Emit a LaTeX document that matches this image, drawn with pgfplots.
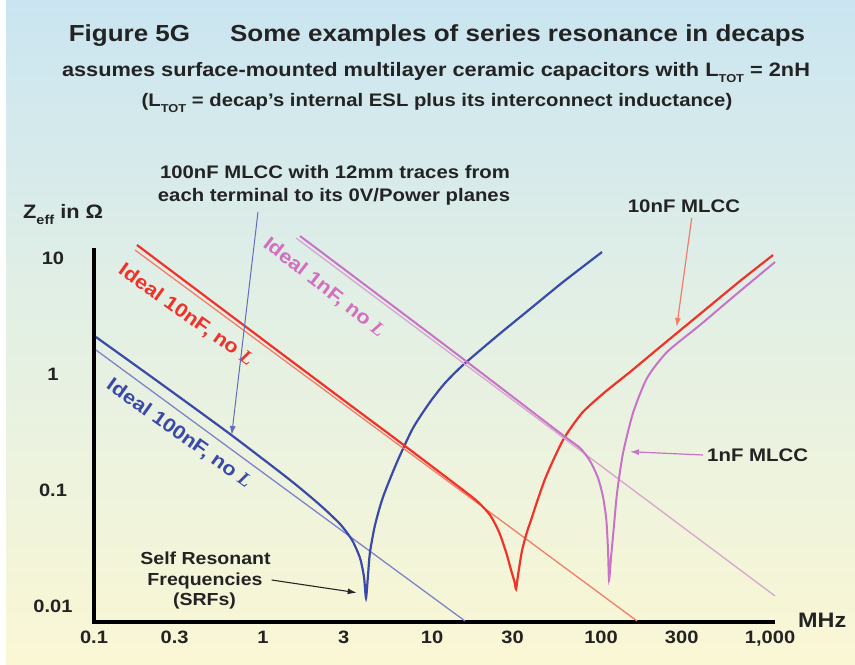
\documentclass[border=0pt]{standalone}
\usepackage{fontspec}
\setmainfont{Liberation Sans}[FakeStretch=1.12]
\newfontfamily\serifL{Liberation Serif}
\usepackage{pgfplots}
\pgfplotsset{compat=1.18}
\usetikzlibrary{arrows.meta}
\definecolor{bgtop}{RGB}{202,229,241}
\definecolor{bgmid}{RGB}{228,240,228}
\definecolor{bgbot}{RGB}{250,247,212}
\definecolor{blueDark}{RGB}{58,74,168}
\definecolor{blueThin}{RGB}{125,132,200}
\definecolor{redDark}{RGB}{240,50,40}
\definecolor{redThin}{RGB}{242,125,105}
\definecolor{magDark}{RGB}{200,115,200}
\definecolor{magThin}{RGB}{215,165,205}
\definecolor{magText}{RGB}{212,110,190}
\definecolor{txt}{RGB}{35,35,35}
\newcommand\fs[1]{\fontsize{#1}{#1}\selectfont}
\newcommand\sub[1]{\raisebox{-0.3em}{\fs{11.5}#1}}
\newcommand\Lit{{\serifL\bfseries\itshape L}}
\begin{document}
\begin{tikzpicture}[x=1bp,y=1bp]
\useasboundingbox (0,0) rectangle (855,665);
\shade[top color=bgtop, bottom color=bgbot, middle color=bgmid] (0,0) rectangle (855,665);
\fill[white] (0,0) rectangle (6,665);
% titles
\node[anchor=base, inner sep=0, text=txt] at (437,623.3) {\fs{23.3}\bfseries Figure 5G\hspace{40bp}Some examples of series resonance in decaps};
\node[anchor=base, inner sep=0, text=txt] at (436,588) {\fs{19.5}\bfseries assumes surface-mounted multilayer ceramic capacitors with L\sub{TOT} = 2nH};
\node[anchor=base, inner sep=0, text=txt] at (437,558) {\fs{18.2}\bfseries (L\sub{TOT} = decap's internal ESL plus its interconnect inductance)};
\node[anchor=base west, inner sep=0, text=txt] at (23,446) {\fs{19.5}\bfseries Z\raisebox{-0.3em}{\fs{13}eff} in Ω};
\begin{axis}[
  at={(94bp,43bp)}, anchor=south west,
  scale only axis, width=681bp, height=374bp,
  xmode=log, ymode=log,
  xmin=0.1, xmax=1070, ymin=0.00728, ymax=12.2,
  axis line style={draw=none},
  clip=false,
  xtick={0.1,0.3,1,3,10,30,100,300,1000},
  xticklabels={0.1,0.3,1,3,10,30,100,300,{1,000}},
  ytick={0.01,0.1,1,10},
  yticklabels={0.01,0.1,1,10},
  minor xtick={}, minor ytick={},
  major tick length=0, tick style={draw=none},
  xticklabel style={anchor=base, yshift=-21bp, inner sep=0, font=\fs{18}\bfseries, text=txt},
  yticklabel style={anchor=base, xshift=-41bp, yshift=-6.3bp, inner sep=0, font=\fs{18}\bfseries, text=txt},
]
\draw[line width=3.5bp, black] (rel axis cs:0,1) -- (rel axis cs:0,0) -- (rel axis cs:1,0);
% 100nF
\addplot[blueThin, line width=1.3bp, mark=none] coordinates {(0.1027,1.610) (15.67,0.007428)};
\addplot[blueDark, line width=2.2bp, mark=none, smooth, tension=0.4] coordinates {
(0.1027,2.084) (0.2457,0.8364) (0.6377,0.3039) (1.4451,0.12198) (2.1740,0.07425) (2.8553,0.05092) (3.3627,0.03706) (3.7497,0.02593) (3.9594,0.01778) (4.0687,0.01172) (4.1811,0.01850) (4.2968,0.02921) (4.5994,0.04992) (5.1295,0.08704) (6.2086,0.17434) (7.7199,0.3424) (9.7313,0.5736) (11.94,0.8364) (15.256,1.1955) (24.245,2.1267) (38.003,3.6337) (59.594,6.2108) (101.37,11.264)};
% 10nF
\addplot[redThin, line width=1.3bp, mark=none] coordinates {(0.1748,11.72) (163.3,0.007428)};
\addplot[redDark, line width=2.2bp, mark=none, smooth, tension=0.4] coordinates {
(0.1796,12.94) (2.4918,0.7278) (6.2086,0.2698) (15.256,0.1) (18.72,0.07880) (22.04,0.06086) (24.91,0.04344) (27.41,0.02921) (29.35,0.02043) (30.78,0.01610) (31.41,0.01401) (32.28,0.01850) (33.95,0.02921) (36.00,0.04093) (38.003,0.05194) (46.63,0.12442) (59.594,0.2698) (77.18,0.4611) (105.6,0.6994) (148.4,1.0405) (223.4,1.7095) (385.3,3.2906) (664.6,6.3356) (1041.7,10.613)};
% 1nF
\addplot[magThin, line width=1.3bp, mark=none] coordinates {(1.568,14.87) (1070,0.0122)};
\addplot[magDark, line width=2bp, mark=none, smooth, tension=0.4] coordinates {
(1.6558,15.47) (12.78,1.643) (57.20,0.3100) (75.11,0.2302) (86.07,0.1778) (96.0,0.1269) (102.8,0.08704) (107.5,0.05512) (110.0,0.0304) (111.5,0.01675) (114.6,0.02645) (118.2,0.04259) (124.35,0.09422) (134.95,0.20844) (154.6,0.4611) (187.2,0.9237) (245.8,1.5476) (385.3,2.6452) (604.0,4.6108) (1070.5,9.236)};
\end{axis}
% MHz
\node[anchor=base west, inner sep=0, text=txt] at (798,37) {\fs{21}\bfseries MHz};
% rotated labels
\node[rotate=-35.5, inner sep=0, text=redDark] at (186,350) {\fs{19.5}\bfseries Ideal 10nF, no \Lit};
\node[rotate=-35.5, inner sep=0, text=blueDark] at (179,231.5) {\fs{19.5}\bfseries Ideal 100nF, no \Lit};
\node[rotate=-38, inner sep=0, text=magText] at (324,377.5) {\fs{19.5}\bfseries Ideal 1nF, no \Lit};
% annotations
\node[anchor=base, inner sep=0, text=txt] at (335,486.7) {\fs{18.2}\bfseries 100nF MLCC with 12mm traces from};
\node[anchor=base, inner sep=0, text=txt] at (334,463.3) {\fs{18.2}\bfseries each terminal to its 0V/Power planes};
\draw[blueDark!80, line width=1bp, -{Latex[length=9bp,width=6bp]}] (258,453) -- (231.7,230);
\node[anchor=base, inner sep=0, text=txt] at (684,452) {\fs{18.3}\bfseries 10nF MLCC};
\draw[redThin, line width=1.2bp, -{Latex[length=9bp,width=6bp]}] (691.7,447) -- (676.7,338);
\node[anchor=base west, inner sep=0, text=txt] at (707,203) {\fs{18.3}\bfseries 1nF MLCC};
\draw[magDark, line width=1.2bp, -{Latex[length=9bp,width=6bp]}] (703,210) -- (630,213.3);
\node[anchor=base, inner sep=0, text=txt] at (205.5,100) {\fs{17.5}\bfseries Self Resonant};
\node[anchor=base, inner sep=0, text=txt] at (205,79) {\fs{17.5}\bfseries Frequencies};
\node[anchor=base, inner sep=0, text=txt] at (204.5,59) {\fs{17.5}\bfseries (SRFs)};
\draw[black!85, line width=1.1bp, -{Latex[length=9bp,width=6bp]}] (271.7,85) -- (356.7,72.3);
\end{tikzpicture}
\end{document}
